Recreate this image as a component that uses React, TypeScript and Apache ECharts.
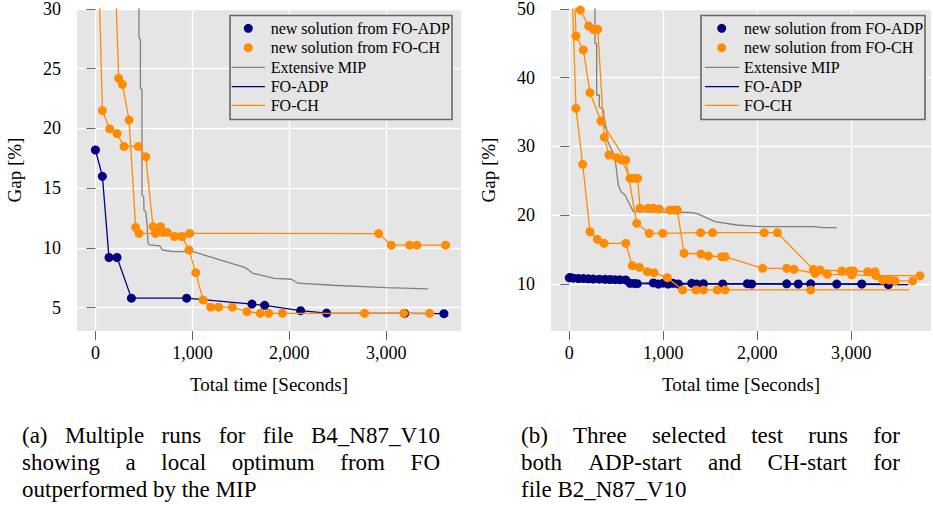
import { useEffect, useRef } from "react";
import * as echarts from "echarts";

// ---------- Panel (a): B4_N87_V10 ----------
const leftMipTime = [449, 449, 464, 464, 480, 480, 498, 501, 519, 532, 542, 560, 663, 691, 800, 1006, 1539, 1625, 1694, 1848, 2021, 2089, 2449, 2999, 3429];
const leftMipGap = [35, 27.55, 27.46, 23.36, 23.28, 14.44, 14.29, 13.18, 13.04, 12.07, 10.39, 10.25, 10.17, 9.83, 9.69, 9.69, 8.38, 7.88, 7.74, 7.46, 7.38, 7.05, 6.88, 6.68, 6.57];

const leftAdpTime = [0, 72, 140, 223, 371, 941, 1614, 1745, 2116, 2384, 3189, 3594];
const leftAdpGap = [18.2, 16.0, 9.2, 9.2, 5.8, 5.8, 5.3, 5.2, 4.75, 4.55, 4.52, 4.5];

const leftChATime = [12, 72, 147, 223, 295, 443, 519, 594, 673, 697, 742, 814, 893, 965, 1034, 1110, 1189, 1271, 1412, 1563, 1700, 1787, 1928, 2776, 3178, 3446];
const leftChAGap = [40, 21.5, 19.96, 19.57, 18.5, 18.5, 17.64, 11.78, 11.78, 11.3, 11.3, 10.95, 10.95, 9.83, 7.93, 5.65, 5.04, 5.04, 5.04, 4.67, 4.53, 4.53, 4.53, 4.53, 4.53, 4.53];

const leftChBTime = [175, 240, 278, 347, 415, 450, 619, 972, 2921, 3051, 3240, 3316, 3611];
const leftChBGap = [40, 24.2, 23.7, 20.7, 11.73, 11.22, 11.22, 11.22, 11.2, 10.23, 10.23, 10.23, 10.23];

// ---------- Panel (b): B2_N87_V10 ----------
const rightMipTime = [273, 273, 291, 291, 319, 319, 345, 362, 372, 398, 404, 426, 486, 497, 521, 550, 593, 628, 681, 1284, 1355, 1550, 1781, 2029, 2596, 2702, 2845];
const rightMipGap = [60, 45.0, 45.0, 37.49, 37.49, 35.79, 35.55, 35.31, 33.85, 32.4, 30.94, 30.2, 28.52, 27.06, 24.4, 23.43, 22.95, 21.97, 20.52, 20.4, 20.28, 19.06, 18.58, 18.33, 18.33, 18.19, 18.19];

const rightAdp1Time = [0, 96, 202, 319, 433, 539, 646, 723, 947, 1053, 1160, 1355, 1632, 1940, 2436, 2845, 3394];
const rightAdp1Gap = [10.9, 10.8, 10.75, 10.7, 10.65, 10.6, 10.1, 10.05, 10.0, 10.0, 10.0, 10.0, 10.0, 10.0, 10.0, 9.98, 9.9];
const rightAdp1End = [3607, 9.9];
const rightAdp2Time = [10, 43, 149, 255, 380, 486, 600, 688, 894, 1000, 1106, 1302, 1426, 1894, 2313, 2568, 3111];
const rightAdp2Gap = [10.95, 10.85, 10.78, 10.72, 10.68, 10.62, 10.58, 10.08, 10.15, 10.12, 10.1, 10.1, 10.05, 10.05, 10.02, 10.02, 10.0];
const rightAdp2End = [3500, 10.0];

const rightChXTime = [12, 71, 142, 220, 298, 369, 600, 670, 745, 830, 901, 1043, 1206, 1348, 1426, 1574, 1656, 2568];
const rightChXGap = [60, 35.55, 27.41, 17.6, 16.5, 15.92, 15.92, 12.66, 12.43, 11.79, 11.65, 10.92, 9.13, 9.13, 9.13, 9.13, 9.13, 9.13];
const rightChXEnd = [3617, 9.13];

const rightChYTime = [36, 71, 149, 220, 337, 600, 717, 851, 994, 1398, 1525, 2074, 2213, 2596, 2667, 2898, 2986, 3021, 3174, 3252, 3334, 3404, 3465, 3653];
const rightChYGap = [60, 46.07, 44.04, 37.83, 33.7, 28.04, 18.83, 17.37, 17.37, 17.46, 17.46, 17.46, 17.46, 12.13, 12.04, 11.89, 11.89, 11.89, 11.79, 11.79, 10.58, 10.58, 10.44, 10.44];

const rightChZTime = [117, 206, 255, 302, 372, 422, 504, 557, 646, 688, 727, 752, 840, 894, 957, 1071, 1124, 1149, 1220, 1401, 1479, 1621, 1656, 2057, 2313, 2390, 2614, 2745, 3004, 3263, 3731];
const rightChZGap = [49.85, 47.53, 47.05, 47.05, 31.34, 28.76, 28.37, 28.04, 25.37, 25.37, 25.37, 21.0, 21.0, 21.0, 20.9, 20.76, 20.76, 20.76, 14.47, 14.36, 14.07, 13.97, 13.97, 12.28, 12.28, 12.13, 11.56, 11.41, 11.31, 11.21, 11.21];

const xTicks = [0, 1000, 2000, 3000];
const leftYTicks = [5, 10, 15, 20, 25, 30];
const rightYTicks = [10, 20, 30, 40, 50];

const legendLabels = ["new solution from FO-ADP", "new solution from FO-CH", "Extensive MIP", "FO-ADP", "FO-CH"];

const captionLeft = ["(a) Multiple runs for file B4_N87_V10", "showing a local optimum from FO", "outperformed by the MIP"];
const captionRight = ["(b) Three selected test runs for", "both ADP-start and CH-start for", "file B2_N87_V10"];

const NAVY = "#000080";
const ORANGE = "#FF8C00";
const GREY = "#808080";
const BG = "#e5e5e5";
const FONT = "Liberation Serif";

function build(xs: number[], ys: number[], yMax: number, end?: number[]) {
  const d: any[] = xs.map((x, i) =>
    ys[i] > yMax ? { value: [x, ys[i]], symbol: "none" } : [x, ys[i]]
  );
  if (end) d.push({ value: end, symbol: "none" });
  return d;
}

function runSeries(name: string, data: any[], color: string, idx: number, markers: boolean) {
  return {
    type: "line",
    name,
    xAxisIndex: idx,
    yAxisIndex: idx,
    data,
    clip: true,
    showSymbol: markers,
    symbol: markers ? "circle" : "none",
    symbolSize: 9,
    itemStyle: { color },
    lineStyle: { color, width: 1.3 },
    emphasis: { disabled: true },
    silent: true,
    z: color === GREY ? 1 : color === NAVY ? 2 : 3,
  };
}

function xAxis(idx: number, min: number, max: number) {
  return {
    type: "value",
    gridIndex: idx,
    min,
    max,
    name: "Total time [Seconds]",
    nameLocation: "middle",
    nameGap: 44,
    nameTextStyle: { fontFamily: FONT, fontSize: 19, color: "#000" },
    axisLine: { show: false },
    axisTick: { show: true, inside: false, length: 9, customValues: xTicks, lineStyle: { color: "#666", width: 1 } },
    axisLabel: {
      customValues: xTicks,
      margin: 13,
      fontFamily: FONT,
      fontSize: 18,
      color: "#000",
      formatter: (v: number) => v.toLocaleString("en-US"),
    },
    splitLine: { show: true, lineStyle: { color: "#ffffff", width: 1.3 } },
  };
}

function yAxis(idx: number, min: number, max: number, ticks: number[]) {
  return {
    type: "value",
    gridIndex: idx,
    min,
    max,
    name: "Gap [%]",
    nameLocation: "middle",
    nameGap: 53,
    nameTextStyle: { fontFamily: FONT, fontSize: 19, color: "#000" },
    axisLine: { show: false },
    axisTick: { show: true, inside: false, length: 9, customValues: ticks, lineStyle: { color: "#666", width: 1 } },
    axisLabel: { customValues: ticks, margin: 16, fontFamily: FONT, fontSize: 18, color: "#000" },
    splitLine: { show: true, lineStyle: { color: "#ffffff", width: 1.3 } },
  };
}

function legendBox(bx: number, by: number, bw: number, bh: number, markerX: number, lineX1: number, lineX2: number, textX: number, rows: number[]) {
  const els: any[] = [
    { type: "rect", shape: { x: bx, y: by, width: bw, height: bh }, style: { fill: BG, stroke: "#666", lineWidth: 1.6 }, z: 10 },
    { type: "circle", shape: { cx: markerX, cy: rows[0], r: 4.5 }, style: { fill: NAVY }, z: 11 },
    { type: "circle", shape: { cx: markerX, cy: rows[1], r: 4.5 }, style: { fill: ORANGE }, z: 11 },
    { type: "line", shape: { x1: lineX1, y1: rows[2], x2: lineX2, y2: rows[2] }, style: { stroke: GREY, lineWidth: 1.3 }, z: 11 },
    { type: "line", shape: { x1: lineX1, y1: rows[3], x2: lineX2, y2: rows[3] }, style: { stroke: NAVY, lineWidth: 1.3 }, z: 11 },
    { type: "line", shape: { x1: lineX1, y1: rows[4], x2: lineX2, y2: rows[4] }, style: { stroke: ORANGE, lineWidth: 1.3 }, z: 11 },
  ];
  legendLabels.forEach((t, i) => {
    els.push({
      type: "text",
      x: textX,
      y: rows[i],
      style: { text: t, fontFamily: FONT, fontSize: 16, fill: "#000", align: "left", verticalAlign: "middle" },
      z: 11,
    });
  });
  return els;
}

function captionLines(lines: string[], x: number, width: number, ys: number[], size: number) {
  const canvas = document.createElement("canvas");
  const ctx = canvas.getContext("2d")!;
  ctx.font = `${size}px "${FONT}"`;
  const out: any[] = [];
  lines.forEach((line, li) => {
    const justify = li < lines.length - 1;
    if (!justify) {
      out.push({ type: "text", x, y: ys[li], style: { text: line, fontFamily: FONT, fontSize: size, fill: "#000", align: "left", verticalAlign: "middle" } });
      return;
    }
    const words = line.split(" ");
    const ws = words.map((w) => ctx.measureText(w).width);
    const total = ws.reduce((a, b) => a + b, 0);
    const gap = (width - total) / (words.length - 1);
    let cx = x;
    words.forEach((w, i) => {
      out.push({ type: "text", x: cx, y: ys[li], style: { text: w, fontFamily: FONT, fontSize: size, fill: "#000", align: "left", verticalAlign: "middle" } });
      cx += ws[i] + gap;
    });
  });
  return out;
}

export default function App() {
  const ref = useRef<HTMLDivElement>(null);
  useEffect(() => {
    if (!ref.current) return;
    const chart = echarts.init(ref.current, null, { renderer: "svg" });
    const LMAX = 30;
    const RMAX = 50;
    const rows = [28.3, 47.7, 67.3, 86.7, 105.3];
    const capYs = [435, 462, 489];
    chart.setOption({
      animation: false,
      backgroundColor: "#ffffff",
      grid: [
        { left: 77, top: 9, width: 384, height: 322, show: true, backgroundColor: BG, borderWidth: 0 },
        { left: 551, top: 9, width: 380, height: 322, show: true, backgroundColor: BG, borderWidth: 0 },
      ],
      xAxis: [xAxis(0, -190, 3770), xAxis(1, -195, 3848)],
      yAxis: [yAxis(0, 3.05, LMAX, leftYTicks), yAxis(1, 3.16, RMAX, rightYTicks)],
      series: [
        runSeries("Extensive MIP", build(leftMipTime, leftMipGap, LMAX), GREY, 0, false),
        runSeries("FO-ADP", build(leftAdpTime, leftAdpGap, LMAX), NAVY, 0, true),
        runSeries("FO-CH run A", build(leftChATime, leftChAGap, LMAX), ORANGE, 0, true),
        runSeries("FO-CH run B", build(leftChBTime, leftChBGap, LMAX), ORANGE, 0, true),
        runSeries("Extensive MIP (b)", build(rightMipTime, rightMipGap, RMAX), GREY, 1, false),
        runSeries("FO-ADP run 1", build(rightAdp1Time, rightAdp1Gap, RMAX, rightAdp1End), NAVY, 1, true),
        runSeries("FO-ADP run 2", build(rightAdp2Time, rightAdp2Gap, RMAX, rightAdp2End), NAVY, 1, true),
        runSeries("FO-CH run X", build(rightChXTime, rightChXGap, RMAX, rightChXEnd), ORANGE, 1, true),
        runSeries("FO-CH run Y", build(rightChYTime, rightChYGap, RMAX), ORANGE, 1, true),
        runSeries("FO-CH run Z", build(rightChZTime, rightChZGap, RMAX), ORANGE, 1, true),
      ],
      graphic: [
        ...legendBox(230, 15.5, 222, 104, 248.3, 231.7, 265, 270.7, rows),
        ...legendBox(701, 15.5, 224, 104, 721.7, 705, 739, 744, rows),
        ...captionLines(captionLeft, 22, 418, capYs, 23),
        ...captionLines(captionRight, 521, 379, capYs, 23),
      ],
    });
    return () => chart.dispose();
  }, []);
  return <div ref={ref} style={{ position: "fixed", left: 0, top: 0, width: 933, height: 507 }} />;
}
